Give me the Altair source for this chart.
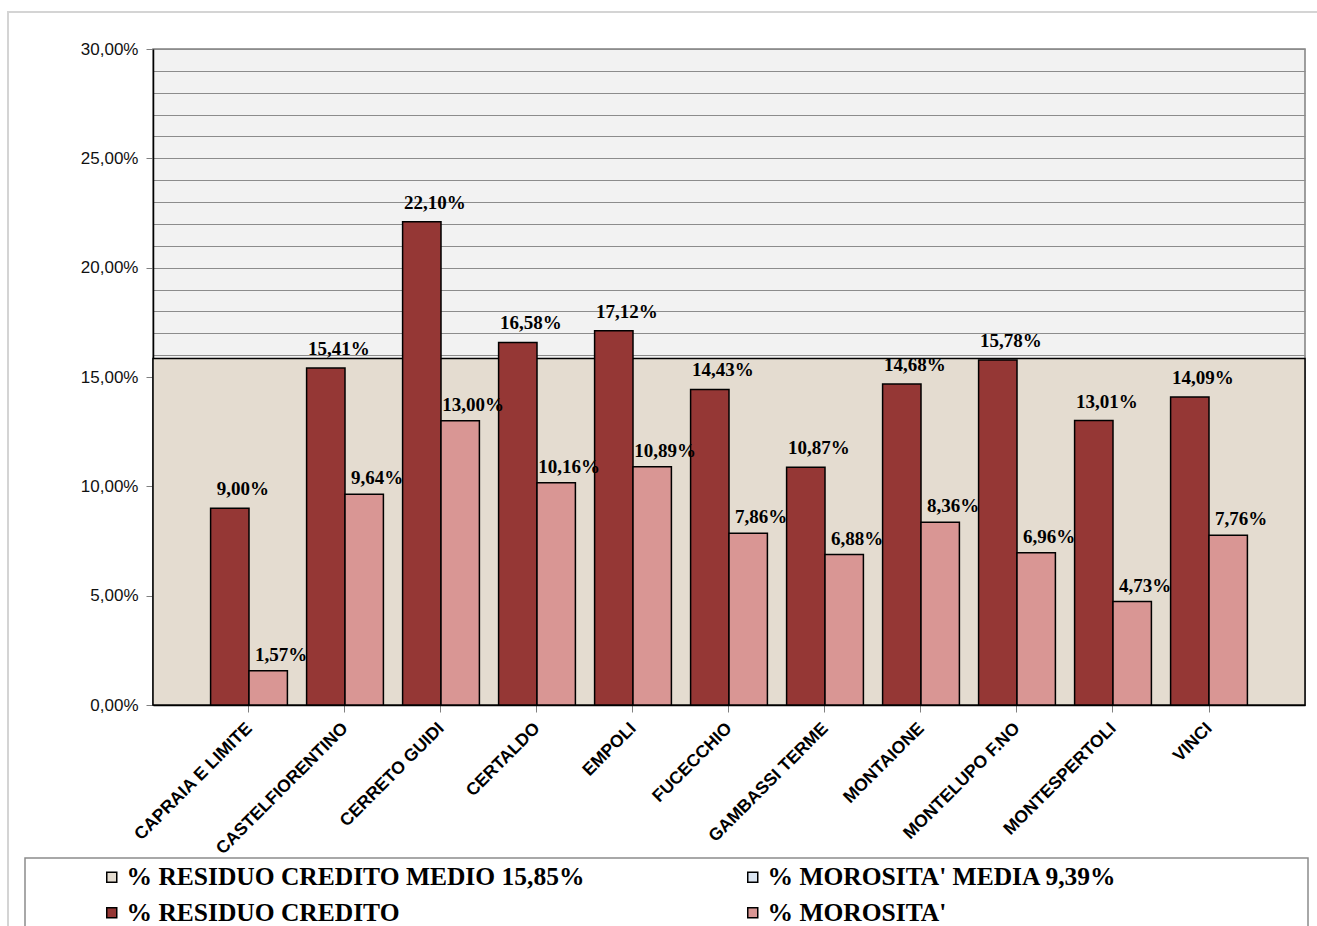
import altair as alt
import pandas as pd

# Comuni e valori percentuali
comuni = [
    "CAPRAIA E LIMITE", "CASTELFIORENTINO", "CERRETO GUIDI", "CERTALDO",
    "EMPOLI", "FUCECCHIO", "GAMBASSI TERME", "MONTAIONE",
    "MONTELUPO F.NO", "MONTESPERTOLI", "VINCI",
]
residuo_credito = [9.00, 15.41, 22.10, 16.58, 17.12, 14.43, 10.87, 14.68, 15.78, 13.01, 14.09]
morosita = [1.57, 9.64, 13.00, 10.16, 10.89, 7.86, 6.88, 8.36, 6.96, 4.73, 7.76]
residuo_medio = 15.85
morosita_media = 9.39

S_MEDIO = "% RESIDUO CREDITO MEDIO 15,85%"
S_MEDIA = "% MOROSITA' MEDIA 9,39%"
S_RES = "% RESIDUO CREDITO"
S_MOR = "% MOROSITA'"

# legend entries are laid out column by column
serie_ordine = [S_MEDIO, S_RES, S_MEDIA, S_MOR]
serie_colori = ["#E4DCD0", "#953735", "#DCE6F2", "#D99694"]

rows = []
for c, r, m in zip(comuni, residuo_credito, morosita):
    rows.append({"comune": c, "serie": S_RES, "valore": r})
    rows.append({"comune": c, "serie": S_MOR, "valore": m})
df = pd.DataFrame(rows)
df_medio = pd.DataFrame({"medio": [residuo_medio]})
df_one = pd.DataFrame({"k": [0]})

W, H = 1152, 656
SERIF = "Liberation Serif"
SANS = "Liberation Sans"

y_scale = alt.Scale(domain=[0, 30], nice=False, zero=True)
y_axis = alt.Axis(
    values=list(range(0, 31)),
    grid=True, gridColor="#8C8C8C", gridWidth=1,
    tickOpacity={"condition": {"test": "datum.value % 5 === 0", "value": 1}, "value": 0},
    tickColor="#808080", tickSize=7,
    domainColor="black", domainWidth=1.5,
    labelExpr="datum.value % 5 === 0 ? replace(format(datum.value, '.2f'), '.', ',') + '%' : ''",
    labelFont=SANS, labelFontSize=17, labelColor="#111111", labelPadding=8,
    title=None,
)
x_axis = alt.Axis(
    labelAngle=-45, labelAlign="right", labelBaseline="top",
    labelFont=SANS, labelFontSize=17.5, labelFontWeight="bold", labelColor="black",
    labelPadding=7, labelOffset=-6, bandPosition=0.5,
    tickColor="#808080", tickSize=7,
    domainColor="black", domainWidth=1.5,
    grid=False, title=None, labelLimit=400,
)
x_enc = alt.X("comune:N", sort=comuni,
              scale=alt.Scale(paddingInner=0.2, paddingOuter=0.6), axis=x_axis)
xoff_enc = alt.XOffset("serie:N", sort=[S_RES, S_MOR],
                       scale=alt.Scale(paddingInner=0, paddingOuter=0))

# outer frame of the chart
frame = alt.Chart(df_one).mark_rect(fill=None, stroke="#D4D4D4", strokeWidth=2).encode(
    x=alt.value(-145), x2=alt.value(1175), y=alt.value(-37), y2=alt.value(900)
)

# average residual credit band
medio = alt.Chart(df_medio).mark_rect(fill="#E4DCD0", stroke="black", strokeWidth=1.5).encode(
    x=alt.value(0), x2=alt.value(W),
    y=alt.Y("medio:Q", scale=y_scale, axis=y_axis), y2=alt.datum(0),
)

bars = alt.Chart(df).mark_bar(stroke="black", strokeWidth=1.5).encode(
    x=x_enc, xOffset=xoff_enc,
    y=alt.Y("valore:Q", scale=y_scale, axis=y_axis),
    color=alt.Color(
        "serie:N",
        scale=alt.Scale(domain=serie_ordine, range=serie_colori),
        legend=alt.Legend(
            orient="none", legendX=-54, legendY=815, columns=2,
            symbolType="square", symbolSize=100, symbolStrokeColor="black",
            symbolStrokeWidth=1.5, symbolOpacity=1,
            labelFont=SERIF, labelFontSize=25.5, labelFontWeight="bold", labelColor="black",
            labelLimit=700, labelOffset=2, columnPadding=155, rowPadding=9,
            title=None, padding=0,
        ),
    ),
)

text_base = alt.Chart(df).transform_calculate(
    lab="replace(format(datum.valore, '.2f'), '.', ',') + '%'"
)
text_res = text_base.transform_filter(alt.datum.serie == S_RES).mark_text(
    font=SERIF, fontSize=19, fontWeight="bold", color="black",
    baseline="alphabetic", dy=-13, dx=13,
).encode(x=x_enc, xOffset=xoff_enc,
         y=alt.Y("valore:Q", scale=y_scale, axis=y_axis), text="lab:N")
text_mor = text_base.transform_filter(alt.datum.serie == S_MOR).mark_text(
    font=SERIF, fontSize=19, fontWeight="bold", color="black",
    baseline="alphabetic", dy=-10, dx=13,
).encode(x=x_enc, xOffset=xoff_enc,
         y=alt.Y("valore:Q", scale=y_scale, axis=y_axis), text="lab:N")

# legend box
legend_box = alt.Chart(df_one).mark_rect(fill=None, stroke="#8C8C8C", strokeWidth=1.5).encode(
    x=alt.value(-128), x2=alt.value(1155), y=alt.value(809), y2=alt.value(900)
)

chart = alt.layer(frame, medio, bars, text_res, text_mor, legend_box).properties(
    width=W, height=H,
    autosize=alt.AutoSizeParams(type="none"),
    padding={"left": 153, "top": 49, "right": 12, "bottom": 221},
    background="white",
).configure_view(
    fill="#F2F2F2", stroke="#808080", strokeWidth=1.5
)

chart.save("out.html", embed_options={"renderer": "svg", "actions": False})
